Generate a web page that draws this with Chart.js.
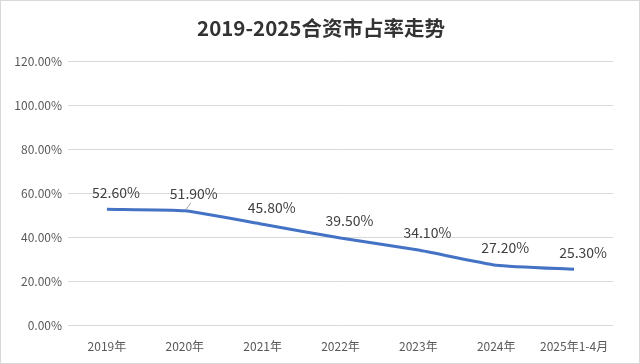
<!DOCTYPE html>
<html>
<head>
<meta charset="utf-8">
<script src="https://cdn.jsdelivr.net/npm/chart.js@4"></script>
<style>
  html, body { margin: 0; padding: 0; background: #fff; }
  #wrap { width: 638px; height: 362px; border: 1px solid #d9d9d9; }
</style>
</head>
<body>
<div id="wrap"><canvas id="chart" width="638" height="362"></canvas></div>
<script>
// data
const categories = ["2019年", "2020年", "2021年", "2022年", "2023年", "2024年", "2025年1-4月"];
const shareValues = [0.526, 0.519, 0.458, 0.395, 0.341, 0.272, 0.253];
const shareLabels = ["52.60%", "51.90%", "45.80%", "39.50%", "34.10%", "27.20%", "25.30%"];
const yTicks = [0, 0.2, 0.4, 0.6, 0.8, 1.0, 1.2];
const chartTitle = "2019-2025合资市占率走势";

const fontFamily = "'Noto Sans CJK SC', 'Noto Sans', sans-serif";

// title centred on the whole canvas (chart.js would centre it inside the padding)
const centredTitle = {
  id: "centredTitle",
  afterDraw(chart) {
    const ctx = chart.ctx;
    ctx.save();
    ctx.font = "bold 20.5px " + fontFamily;
    ctx.fillStyle = "#333333";
    ctx.textAlign = "center";
    ctx.textBaseline = "middle";
    ctx.fillText(chartTitle, chart.width / 2 + 1, 27);
    ctx.restore();
  }
};

// labels sit a little above and to the right of each point, like excel
const valueLabels = {
  id: "valueLabels",
  afterDatasetsDraw(chart) {
    const ctx = chart.ctx;
    const meta = chart.getDatasetMeta(0);
    ctx.save();
    ctx.font = "14px " + fontFamily;
    ctx.fillStyle = "#404040";
    ctx.textAlign = "center";
    ctx.textBaseline = "middle";
    meta.data.forEach((pt, i) => {
      ctx.fillText(shareLabels[i], pt.x + 9, pt.y - 17);
    });
    // small leader line on the 2020 label
    const p = meta.data[1];
    ctx.strokeStyle = "#a6a6a6";
    ctx.lineWidth = 1;
    ctx.beginPath();
    ctx.moveTo(p.x + 1, p.y - 1);
    ctx.lineTo(p.x + 6, p.y - 8);
    ctx.stroke();
    ctx.restore();
  }
};

new Chart(document.getElementById("chart"), {
  type: "line",
  data: {
    labels: categories,
    datasets: [{
      data: shareValues,
      borderColor: "#4472c4",
      borderWidth: 3,
      pointRadius: 0,
      tension: 0.15,
      fill: false
    }]
  },
  options: {
    responsive: false,
    animation: false,
    layout: { padding: { left: 0, right: 26, top: 60, bottom: 0 } },
    plugins: {
      legend: { display: false },
      tooltip: { enabled: false },
      title: { display: false }
    },
    scales: {
      x: {
        offset: true,
        grid: { display: false },
        border: { display: false },
        ticks: { color: "#595959", font: { family: fontFamily, size: 12 }, maxRotation: 0, padding: 6 },
        afterFit(scale) { scale.height = 38; }
      },
      y: {
        min: 0,
        max: 1.2,
        afterBuildTicks(scale) { scale.ticks = yTicks.map(v => ({ value: v })); },
        grid: { color: "#d9d9d9", lineWidth: 1, drawTicks: false },
        border: { display: false },
        ticks: {
          color: "#595959",
          font: { family: fontFamily, size: 12 },
          padding: 6,
          callback: v => (v * 100).toFixed(2) + "%"
        },
        afterFit(scale) { scale.width = 67; }
      }
    }
  },
  plugins: [centredTitle, valueLabels]
});
</script>
</body>
</html>
